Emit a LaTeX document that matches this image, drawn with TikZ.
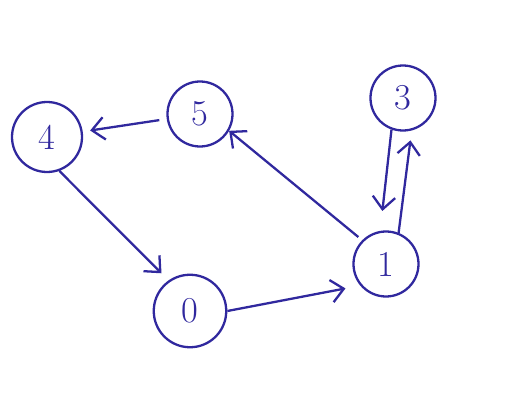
\documentclass[tikz,border=0pt]{standalone}
\usetikzlibrary{arrows.meta}
\definecolor{pen}{RGB}{48,40,158}
\tikzset{
	vert/.style={circle, draw=pen, line width=1.3pt, minimum size=1.3cm, inner sep=0pt, text=pen, font=\huge},
	edge/.style={draw=pen, line width=1.3pt, -{Straight Barb[length=2.5mm,width=4.5mm]}},
}

\begin{document}
\begin{tikzpicture}
		%%%%% START %%%%%
		\useasboundingbox[fill=white] (0, 0) rectangle (10.24, 8.14);
		
		\node[vert, minimum size=1.4cm] (n4) at (0.94, 5.40) {4};
		\node[vert] (n5) at (4.00, 5.86) {5};
		\node[vert] (n3) at (8.06, 6.18) {3};
		\node[vert] (n1) at (7.72, 2.86) {1};
		\node[vert, minimum size=1.45cm] (n0) at (3.80, 1.92) {0};
		
		\draw[edge, shorten <=1.5mm, shorten >=1.5mm] (n5) -- (n4);
		\draw[edge, shorten >=2mm] (n4.-70) -- (n0.125);
		\draw[edge, shorten >=3mm] (n0.east) -- (n1.220);
		\draw[edge, shorten <=1mm] (n1.135) -- (n5.-30);
		\draw[edge, shorten >=4mm] (n3.250) -- (n1.100);
		\draw[edge, shorten >=2mm] (n1.68) -- (n3.285);
		%%%%% END %%%%%
	\end{tikzpicture}
\end{document}
